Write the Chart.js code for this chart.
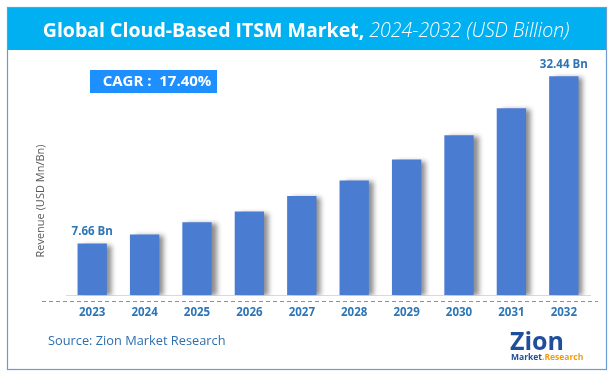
<!DOCTYPE html>
<html>
<head>
<meta charset="utf-8">
<script src="https://cdn.jsdelivr.net/npm/chart.js@4/dist/chart.umd.min.js"></script>
<style>
html,body{margin:0;padding:0;background:#fff;}
#wrap{position:relative;width:615px;height:377px;}
canvas{display:block;}
</style>
</head>
<body>
<div id="wrap"><canvas id="c" width="615" height="377"></canvas></div>
<script>
const years = ['2023','2024','2025','2026','2027','2028','2029','2030','2031','2032'];
const revenue = [7.66, 9.0, 10.8, 12.4, 14.7, 17.0, 20.1, 23.7, 27.7, 32.44];
const valueLabels = ['7.66 Bn','','','','','','','','','32.44 Bn'];
const titleMain = 'Global Cloud-Based ITSM Market,';
const titleSub = ' 2024-2032 (USD Billion)';
const cagrText = 'CAGR :  17.40%';
const sourceText = 'Source: Zion Market Research';
const yTitle = 'Revenue (USD Mn/Bn)';

const FONT = '"Open Sans", "Noto Sans", sans-serif';
const LABEL_BLUE = '#2E75B6';

const shadowPlugin = {
  id: 'barShadow',
  beforeDatasetsDraw(chart){
    const ctx = chart.ctx;
    ctx.save();
    ctx.shadowColor = 'rgba(0,0,0,0.45)';
    ctx.shadowOffsetX = 5;
    ctx.shadowOffsetY = 1;
    ctx.shadowBlur = 5;
  },
  afterDatasetsDraw(chart){
    chart.ctx.restore();
  }
};

const decor = {
  id: 'decor',
  beforeDraw(chart){
    const ctx = chart.ctx;
    ctx.save();
    ctx.fillStyle = '#fff';
    ctx.fillRect(0,0,615,377);
    // title bar
    ctx.fillStyle = '#00B0F0';
    ctx.fillRect(7,7,600,43);
    // border
    ctx.strokeStyle = '#6C9BD2';
    ctx.lineWidth = 1.2;
    ctx.strokeRect(7.5,7.5,599,362);
    // title text
    let size = 20;
    const fit = () => {
      ctx.font = 'bold ' + size + 'px ' + FONT;
      const w1 = ctx.measureText(titleMain).width;
      ctx.font = 'italic 300 ' + size + 'px ' + FONT;
      const w2 = ctx.measureText(titleSub).width;
      return [w1,w2];
    };
    let [w1,w2] = fit();
    size = size * 527 / (w1+w2);
    [w1,w2] = fit();
    let x0 = 306 - (w1+w2)/2;
    ctx.fillStyle = '#fff';
    ctx.textBaseline = 'middle';
    ctx.textAlign = 'left';
    ctx.font = 'bold ' + size + 'px ' + FONT;
    ctx.fillText(titleMain, x0, 31);
    ctx.font = 'italic 300 ' + size + 'px ' + FONT;
    ctx.fillText(titleSub, x0 + w1, 31);
    // CAGR box
    ctx.fillStyle = '#1E8FFF';
    ctx.fillRect(90,70,127,23);
    ctx.fillStyle = '#fff';
    ctx.font = 'bold 15px ' + FONT;
    ctx.textAlign = 'center';
    ctx.fillText(cagrText, 157, 82);
    // y axis title
    ctx.save();
    ctx.translate(41, 201);
    ctx.rotate(-Math.PI/2);
    ctx.fillStyle = '#595959';
    ctx.font = '11px ' + FONT;
    ctx.textAlign = 'center';
    ctx.textBaseline = 'middle';
    ctx.fillText(yTitle, 0, 0);
    ctx.restore();
    ctx.restore();
  },
  afterDraw(chart){
    const ctx = chart.ctx;
    ctx.save();
    // dashed line below axis
    ctx.strokeStyle = '#6C9BD2';
    ctx.lineWidth = 1;
    ctx.setLineDash([4,3]);
    ctx.beginPath();
    ctx.moveTo(42, 301.5);
    ctx.lineTo(598, 301.5);
    ctx.stroke();
    ctx.setLineDash([]);
    // value labels
    const meta = chart.getDatasetMeta(0);
    ctx.fillStyle = LABEL_BLUE;
    ctx.font = 'bold 11.5px ' + FONT;
    ctx.textAlign = 'center';
    ctx.textBaseline = 'bottom';
    meta.data.forEach((bar,i) => {
      if (valueLabels[i]) ctx.fillText(valueLabels[i], bar.x, bar.y - 6);
    });
    // source
    ctx.fillStyle = '#2E6EB0';
    ctx.font = '12.8px ' + FONT;
    ctx.textAlign = 'left';
    ctx.textBaseline = 'middle';
    ctx.fillText(sourceText, 48, 341);
    // logo
    ctx.fillStyle = '#1F4E9A';
    ctx.font = 'bold 25px ' + FONT;
    ctx.textBaseline = 'alphabetic';
    ctx.fillText('Zion', 510, 350);
    ctx.font = 'bold 8.5px ' + FONT;
    ctx.fillStyle = '#1F4E9A';
    ctx.fillText('Market', 511, 360);
    const mw = ctx.measureText('Market').width;
    ctx.fillStyle = '#F39C12';
    ctx.fillText('.Research', 511 + mw, 360);
    ctx.restore();
  }
};

new Chart(document.getElementById('c'), {
  type: 'bar',
  data: {
    labels: years,
    datasets: [{
      data: revenue,
      backgroundColor: '#4A7CD1',
      borderWidth: 0,
      categoryPercentage: 1,
      barPercentage: 0.56
    }]
  },
  options: {
    responsive: false,
    animation: false,
    events: [],
    layout: { padding: { left: 66, right: 25, top: 59, bottom: 54 } },
    plugins: { legend: { display: false }, tooltip: { enabled: false }, title: { display: false } },
    scales: {
      x: {
        grid: { display: false },
        border: { display: true, color: '#D9D9D9', width: 1 },
        ticks: { color: LABEL_BLUE, font: { family: FONT, size: 11.5, weight: 'bold' }, padding: 3 }
      },
      y: {
        display: false,
        min: 0, max: 35
      }
    }
  },
  plugins: [shadowPlugin, decor]
});
</script>
</body>
</html>
